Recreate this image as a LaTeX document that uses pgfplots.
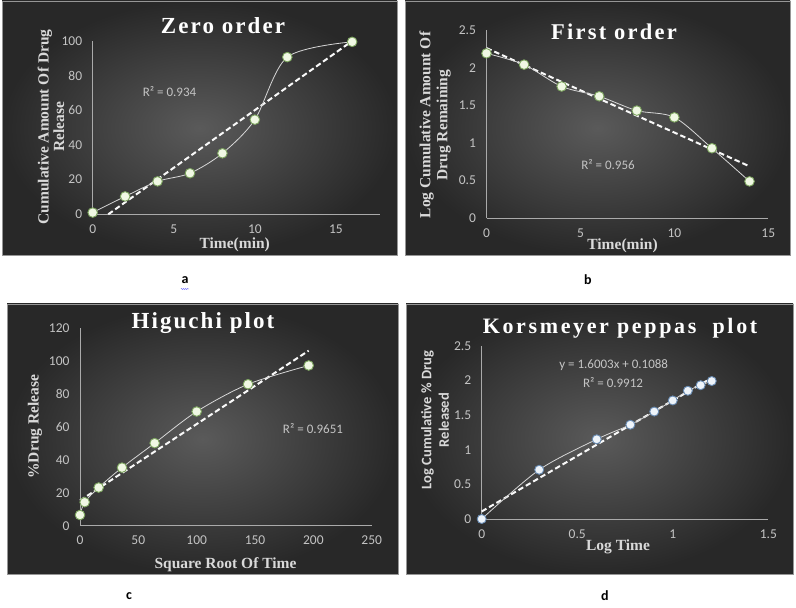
\documentclass[border=0pt]{standalone}
\usepackage{fontspec}
\setmainfont{Liberation Serif}
\newfontfamily\calib{Carlito}
\newfontfamily\titlefont{Liberation Serif}
\usepackage{pgfplots}
\pgfplotsset{compat=1.18}
\usetikzlibrary{decorations.pathmorphing}

\definecolor{bgin}{RGB}{90,90,90}
\definecolor{bgout}{RGB}{40,40,40}
\definecolor{edge}{RGB}{150,150,150}
\definecolor{axisgray}{RGB}{170,170,170}
\definecolor{tickgray}{RGB}{196,196,196}
\definecolor{labgray}{RGB}{217,217,217}
\definecolor{linegray}{RGB}{215,215,215}
\definecolor{mkfill}{RGB}{240,248,228}
\definecolor{mkdraw}{RGB}{125,165,95}
\definecolor{mkfillb}{RGB}{238,244,250}
\definecolor{mkdrawb}{RGB}{105,140,180}

\pgfplotsset{
  xls/.style={
    scale only axis, enlargelimits=false, clip=false, anchor=south west,
    axis x line*=bottom, axis y line*=left,
    axis line style={axisgray, line width=0.6pt, -},
    major tick length=0pt,
    tick label style={font=\calib\fontsize{13.5}{13.5}\selectfont, text=tickgray},
    /pgf/number format/assume math mode=true,
    xticklabel style={yshift=-7pt}, yticklabel style={xshift=-7pt},
  },
  trend/.style={white!95!gray, line width=2pt, dash pattern=on 5.5pt off 3pt},
  dataline/.style={smooth, tension=0.5, linegray, line width=0.8pt,
    mark=*, mark size=4.8pt, mark options={solid, fill=mkfill, draw=mkdraw, line width=0.9pt}},
}

\newcommand{\ttl}[2]{\titlefont\addfontfeatures{LetterSpace=#2}\bfseries\fontsize{#1}{#1}\selectfont}
\newcommand{\lab}{\bfseries\fontsize{15.5}{15.5}\selectfont}
\newcommand{\rsq}{\calib\fontsize{13}{13}\selectfont}

\begin{document}
\begin{tikzpicture}
\fill[white] (0pt,0pt) rectangle (796pt,608pt);
\shadedraw[inner color=bgin, outer color=bgout, draw=edge, line width=0.5pt] (2pt,353pt) rectangle (397pt,607pt);
\shadedraw[inner color=bgin, outer color=bgout, draw=edge, line width=0.5pt] (405pt,353pt) rectangle (790pt,607pt);
\shadedraw[inner color=bgin, outer color=bgout, draw=edge, line width=0.5pt] (7pt,34pt) rectangle (398pt,304pt);
\shadedraw[inner color=bgin, outer color=bgout, draw=edge, line width=0.5pt] (406pt,34pt) rectangle (793pt,304pt);

% a: zero order
\begin{axis}[xls, at={(92.7pt,393.7pt)}, width=287pt, height=173.3pt,
  xmin=0, xmax=17.7, ymin=0, ymax=100,
  xtick={0,5,10,15}, ytick={0,20,40,60,80,100}]
\addplot[trend] coordinates {(0.96,0) (16,100)};
\addplot[dataline] coordinates {
  (0,1) (2,10.3) (4,19) (6,23.7) (8,35.2) (10,54.6) (12,90.7) (16,99.5)};
\end{axis}

% b: first order
\begin{axis}[xls, at={(486.5pt,389.7pt)}, width=281.8pt, height=188.3pt,
  xmin=0, xmax=15, ymin=0, ymax=2.5,
  xtick={0,5,10,15}, ytick={0,0.5,1,1.5,2,2.5}]
\addplot[trend] coordinates {(0,2.26) (14,0.69)};
\addplot[dataline] coordinates {
  (0,2.19) (2,2.04) (4,1.75) (6,1.62) (8,1.43) (10,1.34) (12,0.93) (14,0.49)};
\end{axis}

% c: higuchi
\begin{axis}[xls, at={(80pt,82.3pt)}, width=291.7pt, height=197.4pt,
  xmin=0, xmax=250, ymin=0, ymax=120,
  xtick={0,50,100,150,200,250}, ytick={0,20,40,60,80,100,120}]
\addplot[trend] coordinates {(0,15.3) (196,106.4)};
\addplot[dataline] coordinates {
  (0,6.5) (4,14.3) (16,23.2) (36,35.3) (64,50.2) (100,69.4) (144,86) (196,97.4)};
\end{axis}

% d: korsmeyer peppas
\begin{axis}[xls, at={(481.7pt,89pt)}, width=286.6pt, height=173.3pt,
  xmin=0, xmax=1.5, ymin=0, ymax=2.5,
  xtick={0,0.5,1,1.5}, ytick={0,0.5,1,1.5,2,2.5}]
\addplot[trend] coordinates {(0,0.1088) (1.204,2.0356)};
\addplot[dataline, mark size=4.5pt, mark options={solid, fill=mkfillb, draw=mkdrawb, line width=0.9pt}] coordinates {
  (0,0) (0.301,0.71) (0.602,1.15) (0.778,1.36) (0.903,1.55) (1,1.71) (1.079,1.85) (1.146,1.93) (1.204,1.99)};
\end{axis}

% titles
\node[text=white, font=\ttl{23}{9}] at (223pt,582pt) {Zero order};
\node[text=white, font=\ttl{22.5}{10}] at (614pt,576pt) {First order};
\node[text=white, font=\ttl{23}{9}] at (203pt,285pt) {Higuchi plot};
\node[text=white, font=\ttl{22}{12}] at (620pt,280pt) {Korsmeyer peppas\ \ plot};

% axis labels
\node[text=labgray, font=\lab, rotate=90, align=center] at (51pt,481pt) {Cumulative Amount Of Drug\\Release};
\node[text=labgray, font=\lab] at (234.7pt,363pt) {Time(min)};
\node[text=labgray, font=\lab, rotate=90, align=center] at (435pt,483pt) {Log Cumulative Amount Of\\[1.5pt]Drug Remaining};
\node[text=labgray, font=\lab] at (622.5pt,362.3pt) {Time(min)};
\node[text=labgray, font=\lab, rotate=90] at (35pt,181.3pt) {\%Drug Release};
\node[text=labgray, font=\lab] at (225.5pt,43.7pt) {Square Root Of Time};
\node[text=labgray, font=\calib\bfseries\fontsize{14.5}{17.5}\selectfont, rotate=90, align=center] at (435pt,188pt) {Log Cumulative \% Drug\\Released};
\node[text=labgray, font=\lab] at (618pt,61.3pt) {Log Time};

% fit texts
\node[text=tickgray, font=\rsq] at (169.5pt,516.3pt) {R² = 0.934};
\node[text=tickgray, font=\rsq] at (608pt,443pt) {R² = 0.956};
\node[text=tickgray, font=\rsq] at (313pt,179pt) {R² = 0.9651};
\node[text=tickgray, font=\rsq] at (613.7pt,243pt) {y = 1.6003x + 0.1088};
\node[text=tickgray, font=\rsq] at (613pt,225.3pt) {R² = 0.9912};

% panel letters
\node[font=\calib\bfseries\fontsize{14}{14}\selectfont] at (185pt,328pt) {a};
\draw[blue!70, line width=0.4pt, decorate, decoration={snake, amplitude=0.5pt, segment length=2pt}] (181pt,319pt) -- (189pt,319pt);
\node[font=\calib\bfseries\fontsize{14}{14}\selectfont] at (588pt,328pt) {b};
\node[font=\calib\bfseries\fontsize{14}{14}\selectfont] at (129pt,12pt) {c};
\node[font=\calib\bfseries\fontsize{14}{14}\selectfont] at (605pt,12pt) {d};
\end{tikzpicture}
\end{document}
